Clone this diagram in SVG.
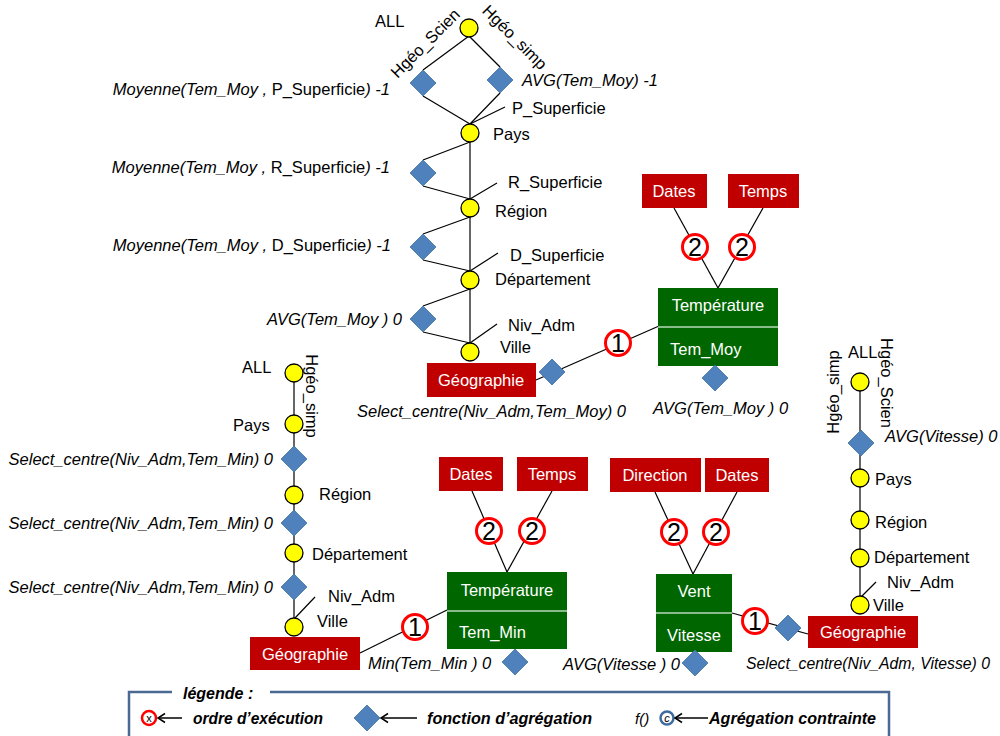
<svg xmlns="http://www.w3.org/2000/svg" width="1000" height="736" viewBox="0 0 1000 736">
<style>
text{font-family:"Liberation Sans",Arial,sans-serif;font-size:16.5px;fill:#000}
.it{font-style:italic}
.w{fill:#fff;text-anchor:middle}
.wl{fill:#fff}
.num{font-size:25px;text-anchor:middle}
.lg{font-weight:bold;font-style:italic;font-size:16px}
.ln{stroke:#000;stroke-width:1.2;fill:none}
.lvl{fill:#FFFF00;stroke:#000;stroke-width:1.3}
.red{fill:#C00000}
.grn{fill:#006600}
.div{stroke:#B8D8B8;stroke-width:1.5}
.ord{fill:#fff;stroke:#FF0000;stroke-width:3}
.dia{fill:#4F81BD;stroke:#41719C;stroke-width:0.8}
.arr{stroke:#000;stroke-width:1.5;fill:none}
</style>
<defs>
<path id="d" d="M0,-13 L13,0 L0,13 L-13,0 Z"/>
</defs>

<g id="connectors">
<line class="ln" x1="469" y1="36" x2="423" y2="70"/>
<line class="ln" x1="423" y1="96" x2="470" y2="124"/>
<line class="ln" x1="469" y1="36" x2="500" y2="67"/>
<line class="ln" x1="500" y1="93" x2="470" y2="124"/>
<line class="ln" x1="470" y1="124" x2="505" y2="107"/>
<line class="ln" x1="470" y1="142" x2="470" y2="343"/>
<line class="ln" x1="470" y1="142" x2="423" y2="160"/>
<line class="ln" x1="423" y1="186" x2="470" y2="199"/>
<line class="ln" x1="470" y1="199" x2="497" y2="183"/>
<line class="ln" x1="470" y1="217" x2="423" y2="234"/>
<line class="ln" x1="423" y1="260" x2="470" y2="271"/>
<line class="ln" x1="470" y1="271" x2="498" y2="253"/>
<line class="ln" x1="470" y1="289" x2="423" y2="306"/>
<line class="ln" x1="423" y1="332" x2="470" y2="343"/>
<line class="ln" x1="470" y1="343" x2="497" y2="324"/>
<line class="ln" x1="536" y1="380" x2="659" y2="326"/>
<line class="ln" x1="674" y1="208" x2="718" y2="288"/>
<line class="ln" x1="763" y1="208" x2="718" y2="288"/>
<line class="ln" x1="294" y1="373" x2="294" y2="627"/>
<line class="ln" x1="295" y1="618" x2="315" y2="597"/>
<line class="ln" x1="360" y1="653" x2="447" y2="610"/>
<line class="ln" x1="472" y1="491" x2="507" y2="572"/>
<line class="ln" x1="552" y1="491" x2="507" y2="572"/>
<line class="ln" x1="655" y1="492" x2="693" y2="574"/>
<line class="ln" x1="737" y1="492" x2="693" y2="574"/>
<line class="ln" x1="732" y1="613" x2="808" y2="634"/>
<line class="ln" x1="860" y1="382" x2="860" y2="605"/>
<line class="ln" x1="861" y1="597" x2="876" y2="582"/>
</g>

<g id="top-hierarchy">
<circle class="lvl" cx="469" cy="28" r="9"/>
<text x="375" y="27">ALL</text>
<text transform="translate(425,43) rotate(-45)" text-anchor="middle" dominant-baseline="central">Hgéo_Scien</text>
<text transform="translate(515,37) rotate(45)" text-anchor="middle" dominant-baseline="central">Hgéo_simp</text>
<use href="#d" class="dia" x="423" y="83"/>
<use href="#d" class="dia" x="500" y="80"/>
<text class="it" x="390" y="95" text-anchor="end">Moyenne(Tem_Moy , <tspan font-style="normal">P_Superficie</tspan>) -1</text>
<text class="it" x="522" y="86">AVG(Tem_Moy) -1</text>
<text x="512" y="114">P_Superficie</text>
<circle class="lvl" cx="470" cy="133" r="9"/>
<text x="493" y="140">Pays</text>
<use href="#d" class="dia" x="423" y="173"/>
<text class="it" x="390" y="173" text-anchor="end">Moyenne(Tem_Moy , <tspan font-style="normal">R_Superficie</tspan>) -1</text>
<text x="508" y="188">R_Superficie</text>
<circle class="lvl" cx="470" cy="208" r="9"/>
<text x="495" y="217">Région</text>
<use href="#d" class="dia" x="423" y="247"/>
<text class="it" x="391" y="251" text-anchor="end">Moyenne(Tem_Moy , <tspan font-style="normal">D_Superficie</tspan>) -1</text>
<text x="510" y="261">D_Superficie</text>
<circle class="lvl" cx="470" cy="280" r="9"/>
<text x="495" y="285">Département</text>
<use href="#d" class="dia" x="423" y="319"/>
<text class="it" x="402" y="325" text-anchor="end">AVG(Tem_Moy ) 0</text>
<text x="508" y="331">Niv_Adm</text>
<circle class="lvl" cx="470" cy="352" r="9"/>
<text x="500" y="353">Ville</text>
</g>

<g id="geo-top">
<rect class="red" x="427" y="363" width="109" height="34"/>
<text class="w" x="481" y="386">Géographie</text>
<use href="#d" class="dia" x="552" y="372"/>
<text class="it" x="357" y="417">Select_centre(Niv_Adm,Tem_Moy) 0</text>
<circle class="ord" cx="618" cy="343" r="12.5"/>
<text class="num" x="618" y="352">1</text>
</g>

<g id="temp-moy">
<rect class="red" x="642" y="174" width="65" height="34"/>
<text class="w" x="674" y="197">Dates</text>
<rect class="red" x="728" y="174" width="71" height="34"/>
<text class="w" x="763" y="197">Temps</text>
<circle class="ord" cx="695" cy="247" r="12.5"/>
<text class="num" x="695" y="256">2</text>
<circle class="ord" cx="742" cy="247" r="12.5"/>
<text class="num" x="742" y="256">2</text>
<rect class="grn" x="658" y="288" width="120" height="78"/>
<line class="div" x1="658" y1="327" x2="778" y2="327"/>
<text class="w" x="718" y="311">Température</text>
<text class="wl" x="670" y="355">Tem_Moy</text>
<use href="#d" class="dia" x="715" y="378"/>
<text class="it" x="653" y="414">AVG(Tem_Moy ) 0</text>
</g>

<g id="left-hierarchy">
<circle class="lvl" cx="294" cy="373" r="9"/>
<text x="242" y="373">ALL</text>
<text transform="translate(312,396) rotate(90)" text-anchor="middle" dominant-baseline="central">Hgéo_simp</text>
<circle class="lvl" cx="294" cy="424" r="9"/>
<text x="233" y="431">Pays</text>
<use href="#d" class="dia" x="294" y="459"/>
<text class="it" x="273" y="465" text-anchor="end">Select_centre(Niv_Adm,Tem_Min) 0</text>
<circle class="lvl" cx="294" cy="495" r="9"/>
<text x="319" y="500">Région</text>
<use href="#d" class="dia" x="294" y="523"/>
<text class="it" x="273" y="529" text-anchor="end">Select_centre(Niv_Adm,Tem_Min) 0</text>
<circle class="lvl" cx="294" cy="553" r="9"/>
<text x="312" y="560">Département</text>
<use href="#d" class="dia" x="294" y="587"/>
<text class="it" x="273" y="593" text-anchor="end">Select_centre(Niv_Adm,Tem_Min) 0</text>
<text x="328" y="602">Niv_Adm</text>
<circle class="lvl" cx="294" cy="627" r="9"/>
<text x="317" y="627">Ville</text>
<rect class="red" x="250" y="637" width="110" height="33"/>
<text class="w" x="305" y="660">Géographie</text>
<circle class="ord" cx="415" cy="627" r="12.5"/>
<text class="num" x="415" y="636">1</text>
</g>

<g id="temp-min">
<rect class="red" x="439" y="457" width="64" height="34"/>
<text class="w" x="471" y="480">Dates</text>
<rect class="red" x="517" y="457" width="71" height="34"/>
<text class="w" x="552" y="480">Temps</text>
<circle class="ord" cx="489" cy="531" r="12.5"/>
<text class="num" x="489" y="540">2</text>
<circle class="ord" cx="532" cy="531" r="12.5"/>
<text class="num" x="532" y="540">2</text>
<rect class="grn" x="447" y="572" width="120" height="77"/>
<line class="div" x1="447" y1="611" x2="567" y2="611"/>
<text class="w" x="507" y="596">Température</text>
<text class="wl" x="459" y="638">Tem_Min</text>
<use href="#d" class="dia" x="515" y="662"/>
<text class="it" x="368" y="669">Min(Tem_Min ) 0</text>
</g>

<g id="vent">
<rect class="red" x="610" y="458" width="91" height="34"/>
<text class="w" x="655" y="481">Direction</text>
<rect class="red" x="705" y="458" width="64" height="34"/>
<text class="w" x="737" y="481">Dates</text>
<circle class="ord" cx="674" cy="532" r="12.5"/>
<text class="num" x="674" y="541">2</text>
<circle class="ord" cx="716" cy="532" r="12.5"/>
<text class="num" x="716" y="541">2</text>
<rect class="grn" x="656" y="574" width="76" height="78"/>
<line class="div" x1="656" y1="613" x2="732" y2="613"/>
<text class="w" x="694" y="597">Vent</text>
<text class="w" x="694" y="641">Vitesse</text>
<use href="#d" class="dia" x="695" y="663"/>
<text class="it" x="680" y="670" text-anchor="end">AVG(Vitesse ) 0</text>
<circle class="ord" cx="755" cy="621" r="12.5"/>
<text class="num" x="755" y="630">1</text>
</g>

<g id="right-hierarchy">
<circle class="lvl" cx="860" cy="382" r="9"/>
<text x="848" y="358">ALL</text>
<text transform="translate(833,392) rotate(-90)" text-anchor="middle" dominant-baseline="central">Hgéo_simp</text>
<text transform="translate(887,383) rotate(90)" text-anchor="middle" dominant-baseline="central">Hgéo_Scien</text>
<use href="#d" class="dia" x="861" y="443"/>
<text class="it" x="885" y="442">AVG(Vitesse) 0</text>
<circle class="lvl" cx="860" cy="478" r="9"/>
<text x="875" y="485">Pays</text>
<circle class="lvl" cx="860" cy="520" r="9"/>
<text x="875" y="528">Région</text>
<circle class="lvl" cx="860" cy="558" r="9"/>
<text x="874" y="563">Département</text>
<text x="887" y="588">Niv_Adm</text>
<circle class="lvl" cx="860" cy="605" r="9"/>
<text x="873" y="611">Ville</text>
<use href="#d" class="dia" x="788" y="628"/>
<rect class="red" x="808" y="616" width="110" height="32"/>
<text class="w" x="863" y="638">Géographie</text>
<text class="it" x="746" y="669" textLength="244" lengthAdjust="spacingAndGlyphs">Select_centre(Niv_Adm, Vitesse) 0</text>
</g>

<g id="legend">
<path d="M172,692 H129 V740 M270,692 H889 V740" fill="none" stroke="#4A6A94" stroke-width="2.5"/>
<text class="lg" x="183" y="699">légende :</text>
<circle cx="149" cy="718" r="7" fill="#fff" stroke="#FF0000" stroke-width="2.5"/>
<text x="149" y="722" text-anchor="middle" style="font-size:11px">x</text>
<line class="arr" x1="182" y1="718" x2="158" y2="718"/>
<path class="arr" d="M165,713.5 L158,718 L165,722.5"/>
<text class="lg" x="193" y="724" textLength="130" lengthAdjust="spacingAndGlyphs">ordre d’exécution</text>
<use href="#d" class="dia" x="367" y="718"/>
<line class="arr" x1="417" y1="718" x2="381" y2="718"/>
<path class="arr" d="M388,713.5 L381,718 L388,722.5"/>
<text class="lg" x="427" y="724" textLength="165" lengthAdjust="spacingAndGlyphs">fonction d’agrégation</text>
<text class="it" x="635" y="724" style="font-size:15px">f()</text>
<circle cx="667" cy="718" r="6.5" fill="#fff" stroke="#3F6C9E" stroke-width="2.5"/>
<text class="it" x="667" y="722" text-anchor="middle" style="font-size:11px">c</text>
<line class="arr" x1="708" y1="718" x2="675" y2="718"/>
<path class="arr" d="M682,713.5 L675,718 L682,722.5"/>
<text class="lg" x="709" y="724" textLength="167" lengthAdjust="spacingAndGlyphs">Agrégation contrainte</text>
</g>
</svg>
